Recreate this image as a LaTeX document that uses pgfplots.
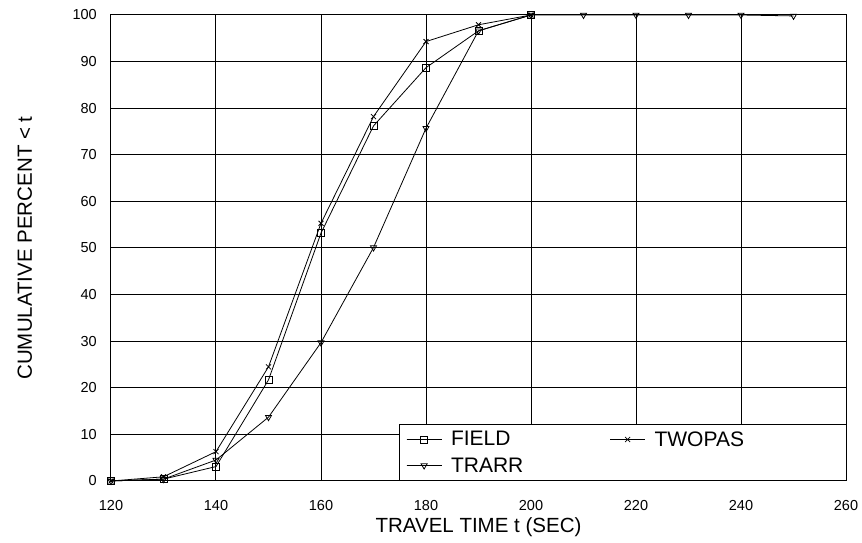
\documentclass[border=0pt]{standalone}
\usepackage{fontspec}
\setmainfont{Liberation Sans}
\usepackage{pgfplots}
\pgfplotsset{compat=1.18}
\begin{document}
\begin{tikzpicture}
\begin{axis}[
  scale only axis,
  width=735pt, height=466pt,
  xmin=120, xmax=260, ymin=0, ymax=100,
  xtick={120,140,...,260}, ytick={0,10,...,100},
  grid=major,
  major grid style={black, line width=1pt},
  axis line style={black, line width=1pt},
  major tick length=0pt,
  tick label style={font=\fontsize{14.5}{16}\selectfont},
  /pgf/number format/assume math mode=true,
  xticklabel style={anchor=center, yshift=-25pt},
  yticklabel style={anchor=east, inner sep=0pt, xshift=-14pt},
  xlabel={TRAVEL TIME t (SEC)},
  ylabel={CUMULATIVE PERCENT < t},
  label style={font=\fontsize{20.5}{22}\selectfont},
  xlabel style={at={(axis description cs:0.5,0)}, anchor=base, yshift=-51pt},
  ylabel style={at={(axis description cs:-0.1075,0.5)}, anchor=base, rotate=0},
  clip=false,
  legend style={at={(rel axis cs:0.4014,0.0612)}, anchor=west, draw=none, fill=none, inner sep=0pt,
    font=\fontsize{21}{22}\selectfont, legend columns=2, row sep=8pt,
    nodes={inner sep=1pt},
    /tikz/every odd column/.append style={column sep=8pt},
    /tikz/every even column/.append style={column sep=85.4pt}},
  legend cell align=left,
  legend image code/.code={\draw[line width=0.8pt] (0pt,0pt) -- (35pt,0pt); \draw[mark repeat=2,mark phase=2] plot coordinates {(0pt,0pt) (17.5pt,0pt) (35pt,0pt)};},
]
\draw[fill=white, line width=1pt] (axis cs:174.9,0) rectangle (axis cs:260,12.2);
\addplot[black, line width=0.8pt, mark=square, mark size=3.5pt, mark options={solid, fill=white, line width=0.8pt}] coordinates {(120,0) (130,0.4) (140,3.1) (150,21.7) (160,53.2) (170,76.2) (180,88.7) (190,96.6) (200,100)};
\addlegendentry{FIELD}
\addplot[black, line width=0.8pt, mark=x, mark size=3.5pt, mark options={solid, line width=0.8pt}] coordinates {(120,0) (130,0.9) (140,6.3) (150,24.5) (160,55.3) (170,78.2) (180,94.3) (190,97.9) (200,100)};
\addlegendentry{TWOPAS}
\addplot[black, line width=0.8pt, mark=triangle, mark size=3.5pt, mark options={solid, rotate=180, fill=white, line width=0.8pt}] coordinates {(120,0) (130,0.4) (140,4.5) (150,13.7) (160,29.7) (170,50.1) (180,75.7) (190,96.6) (200,100) (210,100) (220,100) (230,100) (240,100) (250,99.8)};
\addlegendentry{TRARR}
\coordinate (sw) at (rel axis cs:0,0);
\end{axis}
\pgfresetboundingbox
\path[use as bounding box] (sw) ++(-111pt,-62pt) rectangle ++(862pt,543pt);
\end{tikzpicture}
\end{document}
